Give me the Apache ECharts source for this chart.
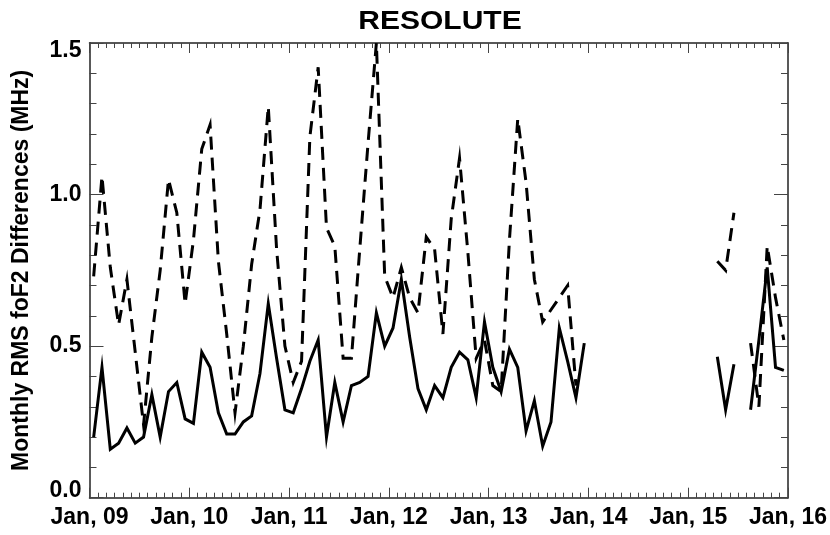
<!DOCTYPE html>
<html>
<head>
<meta charset="utf-8">
<title>RESOLUTE</title>
<script src="https://cdn.jsdelivr.net/npm/echarts@6/dist/echarts.min.js"></script>
<style>
  html, body { margin: 0; padding: 0; background: #fff; }
  #chart { width: 830px; height: 535px; }
</style>
</head>
<body>
<div id="chart"></div>
<script>
// Monthly values, one entry per month from Jan 2009 to Dec 2015 (null = no data)
const startYear = 2009;
const yearTickLabels = ['Jan, 09', 'Jan, 10', 'Jan, 11', 'Jan, 12', 'Jan, 13', 'Jan, 14', 'Jan, 15', 'Jan, 16'];
const yTickLabels = ['0.0', '0.5', '1.0', '1.5'];

// solid curve
const rmsSolid = [
  0.20, 0.43, 0.16, 0.18, 0.23, 0.18, 0.20, 0.34, 0.20, 0.35, 0.38, 0.26,   // 2009
  0.245, 0.48, 0.43, 0.28, 0.21, 0.21, 0.25, 0.27, 0.41, 0.64, 0.46, 0.29,  // 2010
  0.28, 0.36, 0.45, 0.52, 0.20, 0.38, 0.25, 0.37, 0.38, 0.40, 0.61, 0.50,   // 2011
  0.56, 0.72, 0.53, 0.36, 0.29, 0.37, 0.33, 0.43, 0.48, 0.455, 0.33, 0.58,  // 2012
  0.43, 0.35, 0.49, 0.43, 0.22, 0.32, 0.17, 0.25, 0.56, 0.45, 0.33, 0.51,   // 2013
  null, null, null, null, null, null, null, null, null, null, null, null,   // 2014
  null, null, null, 0.465, 0.29, 0.44, null, 0.29, 0.52, 0.76, 0.43, 0.42   // 2015
];

// dashed curve
const rmsDashed = [
  0.73, 1.06, 0.76, 0.57, 0.72, 0.48, 0.24, 0.53, 0.75, 1.05, 0.94, 0.64,   // 2009
  0.85, 1.15, 1.23, 0.78, 0.54, 0.28, 0.50, 0.77, 0.95, 1.29, 0.82, 0.50,   // 2010
  0.38, 0.45, 1.19, 1.42, 0.89, 0.83, 0.46, 0.46, 0.82, 1.17, 1.50, 0.73,   // 2011
  0.66, 0.76, 0.66, 0.61, 0.86, 0.82, 0.54, 0.92, 1.12, 0.81, 0.46, 0.52,   // 2012
  0.37, 0.35, 0.85, 1.25, 1.04, 0.72, 0.58, 0.62, 0.66, 0.70, 0.37, null,   // 2013
  null, null, null, null, null, null, null, null, null, null, null, null,   // 2014
  null, null, null, 0.78, 0.75, 0.94, null, 0.51, 0.30, 0.83, 0.66, 0.52    // 2015
];

// points sit mid-month on an axis counted in months since Jan 2009
const toPoints = arr => arr.map((v, i) => [i + 0.5, v]);

const FONT = 'Liberation Sans, Arial, sans-serif';
const LABEL_SIZE = 23;
const frameColor = '#222';
const tickColor = '#444';

const chart = echarts.init(document.getElementById('chart'), null, { renderer: 'canvas' });

const xCommon = {
  type: 'value',
  min: 0,
  max: 84,
  interval: 12,
  axisLine: { show: true, onZero: false, lineStyle: { color: frameColor, width: 1.5 } },
  axisTick: { show: true, inside: true, length: 10, lineStyle: { color: tickColor, width: 1 } },
  minorTick: { show: true, splitNumber: 12, length: 5, lineStyle: { color: tickColor, width: 1 } },
  splitLine: { show: false },
  minorSplitLine: { show: false }
};

const yCommon = {
  type: 'value',
  min: 0,
  max: 1.5,
  interval: 0.5,
  axisLine: { show: true, onZero: false, lineStyle: { color: frameColor, width: 1.5 } },
  axisTick: { show: true, inside: true, length: 14, lineStyle: { color: tickColor, width: 1 } },
  minorTick: { show: true, splitNumber: 5, length: 7, lineStyle: { color: tickColor, width: 1 } },
  splitLine: { show: false },
  minorSplitLine: { show: false }
};

const labelText = { fontFamily: FONT, fontWeight: 'bold', fontSize: LABEL_SIZE, color: '#000' };

chart.setOption({
  animation: false,
  backgroundColor: '#fff',
  graphic: [
    {
      type: 'text',
      x: 440,
      y: 10,
      scaleX: 1.2,
      style: {
        text: 'RESOLUTE',
        font: 'bold 25px ' + FONT,
        fill: '#000',
        textAlign: 'center',
        textVerticalAlign: 'top'
      }
    }
  ],
  grid: { left: 89.5, right: 42, top: 43, bottom: 37.3, containLabel: false },
  xAxis: [
    Object.assign({}, xCommon, {
      position: 'bottom',
      axisLabel: Object.assign({
        show: true,
        margin: 8,
        formatter: v => yearTickLabels[Math.round(v / 12)]
      }, labelText)
    }),
    Object.assign({}, xCommon, {
      position: 'top',
      axisLabel: { show: false }
    })
  ],
  yAxis: [
    Object.assign({}, yCommon, {
      position: 'left',
      name: 'Monthly RMS foF2 Differences (MHz)',
      nameLocation: 'middle',
      nameGap: 56,
      nameTextStyle: labelText,
      axisLabel: Object.assign({
        show: true,
        margin: 8,
        formatter: v => {
          const label = yTickLabels[Math.round(v / 0.5)];
          if (v === 0) return '{lo|' + label + '}';
          if (v === 1.5) return '{hi|' + label + '}';
          return label;
        },
        rich: {
          lo: Object.assign({ padding: [0, 0, 15, 0] }, labelText),
          hi: Object.assign({ padding: [15, 0, 0, 0] }, labelText)
        }
      }, labelText)
    }),
    Object.assign({}, yCommon, {
      position: 'right',
      axisLabel: { show: false }
    })
  ],
  series: [
    {
      name: 'dashed',
      type: 'line',
      xAxisIndex: 0,
      yAxisIndex: 0,
      data: toPoints(rmsDashed),
      showSymbol: false,
      connectNulls: false,
      lineStyle: { color: '#000', width: 3, type: [13, 8], join: 'miter', cap: 'butt' },
      z: 2
    },
    {
      name: 'solid',
      type: 'line',
      xAxisIndex: 0,
      yAxisIndex: 0,
      data: toPoints(rmsSolid),
      showSymbol: false,
      connectNulls: false,
      lineStyle: { color: '#000', width: 3, type: 'solid', join: 'miter' },
      z: 3
    }
  ]
});
</script>
</body>
</html>
